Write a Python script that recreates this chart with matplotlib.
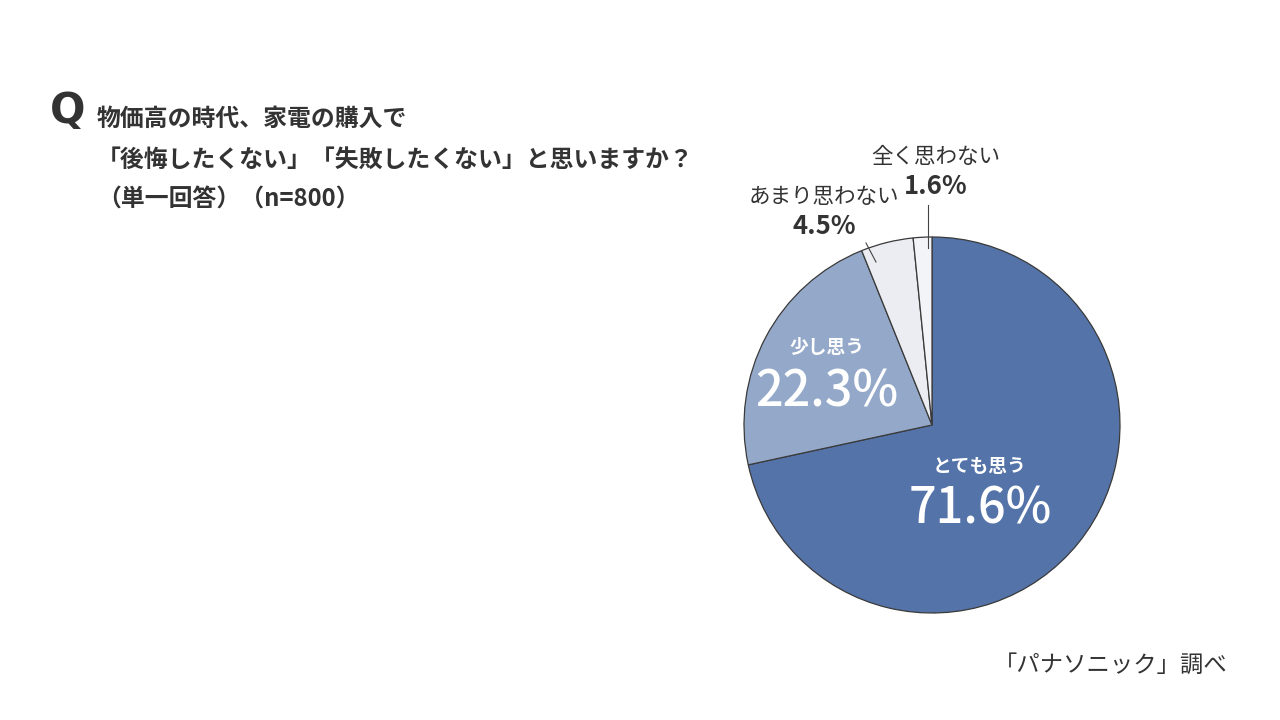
import matplotlib.pyplot as plt
import numpy as np

plt.rcParams['font.family'] = ['Noto Sans CJK JP', 'DejaVu Sans']

# データ
labels = ['とても思う', '少し思う', 'あまり思わない', '全く思わない']
values = [71.6, 22.3, 4.5, 1.6]
colors = ['#5473A8', '#94A9C9', '#EBEDF2', '#F3F4F7']
title_lines = ['物価高の時代、家電の購入で',
               '「後悔したくない」「失敗したくない」と思いますか？',
               '（単一回答）（n=800）']
source = '「パナソニック」調べ'

TXT = '#333333'
W, H = 1280, 720

fig = plt.figure(figsize=(12.8, 7.2), dpi=100)
fig.patch.set_facecolor('white')

# 円グラフ（中心 932,425 / 半径 188 px）
cx, cy, r = 932, 425, 188
ax = fig.add_axes([(cx - r) / W, (H - cy - r) / H, 2 * r / W, 2 * r / H])
wedges, _ = ax.pie(values, colors=colors, startangle=90, counterclock=False,
                   radius=1.0,
                   wedgeprops=dict(edgecolor='#3a3a3a', linewidth=0.9))
ax.set_xlim(-1, 1)
ax.set_ylim(-1, 1)
ax.set_aspect('equal')
ax.axis('off')


def px(x, y):
    # 画像ピクセル座標 -> 円グラフのデータ座標
    return (x - cx) / r, (cy - y) / r


# 内側ラベル
inner = [(980, 467, 510), (827, 348, 393)]
for i, (x, y1, y2) in enumerate(inner):
    ax.text(*px(x, y1), labels[i], color='white', fontsize=13.5,
            fontweight='bold', ha='center', va='center')
    ax.text(*px(x, y2), f'{values[i]}%', color='white', fontsize=35,
            fontweight='medium', ha='center', va='center')

# 外側ラベル
outer = [(824, 197, 227, (866, 243), (876, 262)),
         (936, 157, 186, (928, 205), (928, 248))]
for k, (x, y1, y2, p0, p1) in enumerate(outer):
    i = k + 2
    ax.text(*px(x, y1), labels[i], color=TXT, fontsize=15.5,
            ha='center', va='center', clip_on=False)
    ax.text(*px(x, y2), f'{values[i]}%', color=TXT, fontsize=18.5,
            fontweight='bold', ha='center', va='center', clip_on=False)
    a, b = px(*p0), px(*p1)
    ax.plot([a[0], b[0]], [a[1], b[1]], color='#444444', lw=0.8,
            clip_on=False)

# 設問テキスト
fig.text(50 / W, 1 - 111 / H, 'Q', fontsize=30, fontweight='bold',
         color=TXT, ha='left', va='center', family=['DejaVu Sans'])
ys = [119, 160, 199]
xs = [97, 97, 97]
for t, x, y in zip(title_lines, xs, ys):
    fig.text(x / W, 1 - y / H, t, fontsize=17.2, fontweight='bold',
             color=TXT, ha='left', va='center')

fig.text(1228 / W, 1 - 665 / H, source, fontsize=16.8, color=TXT,
         ha='right', va='center')

plt.savefig('out.png', dpi=100)
